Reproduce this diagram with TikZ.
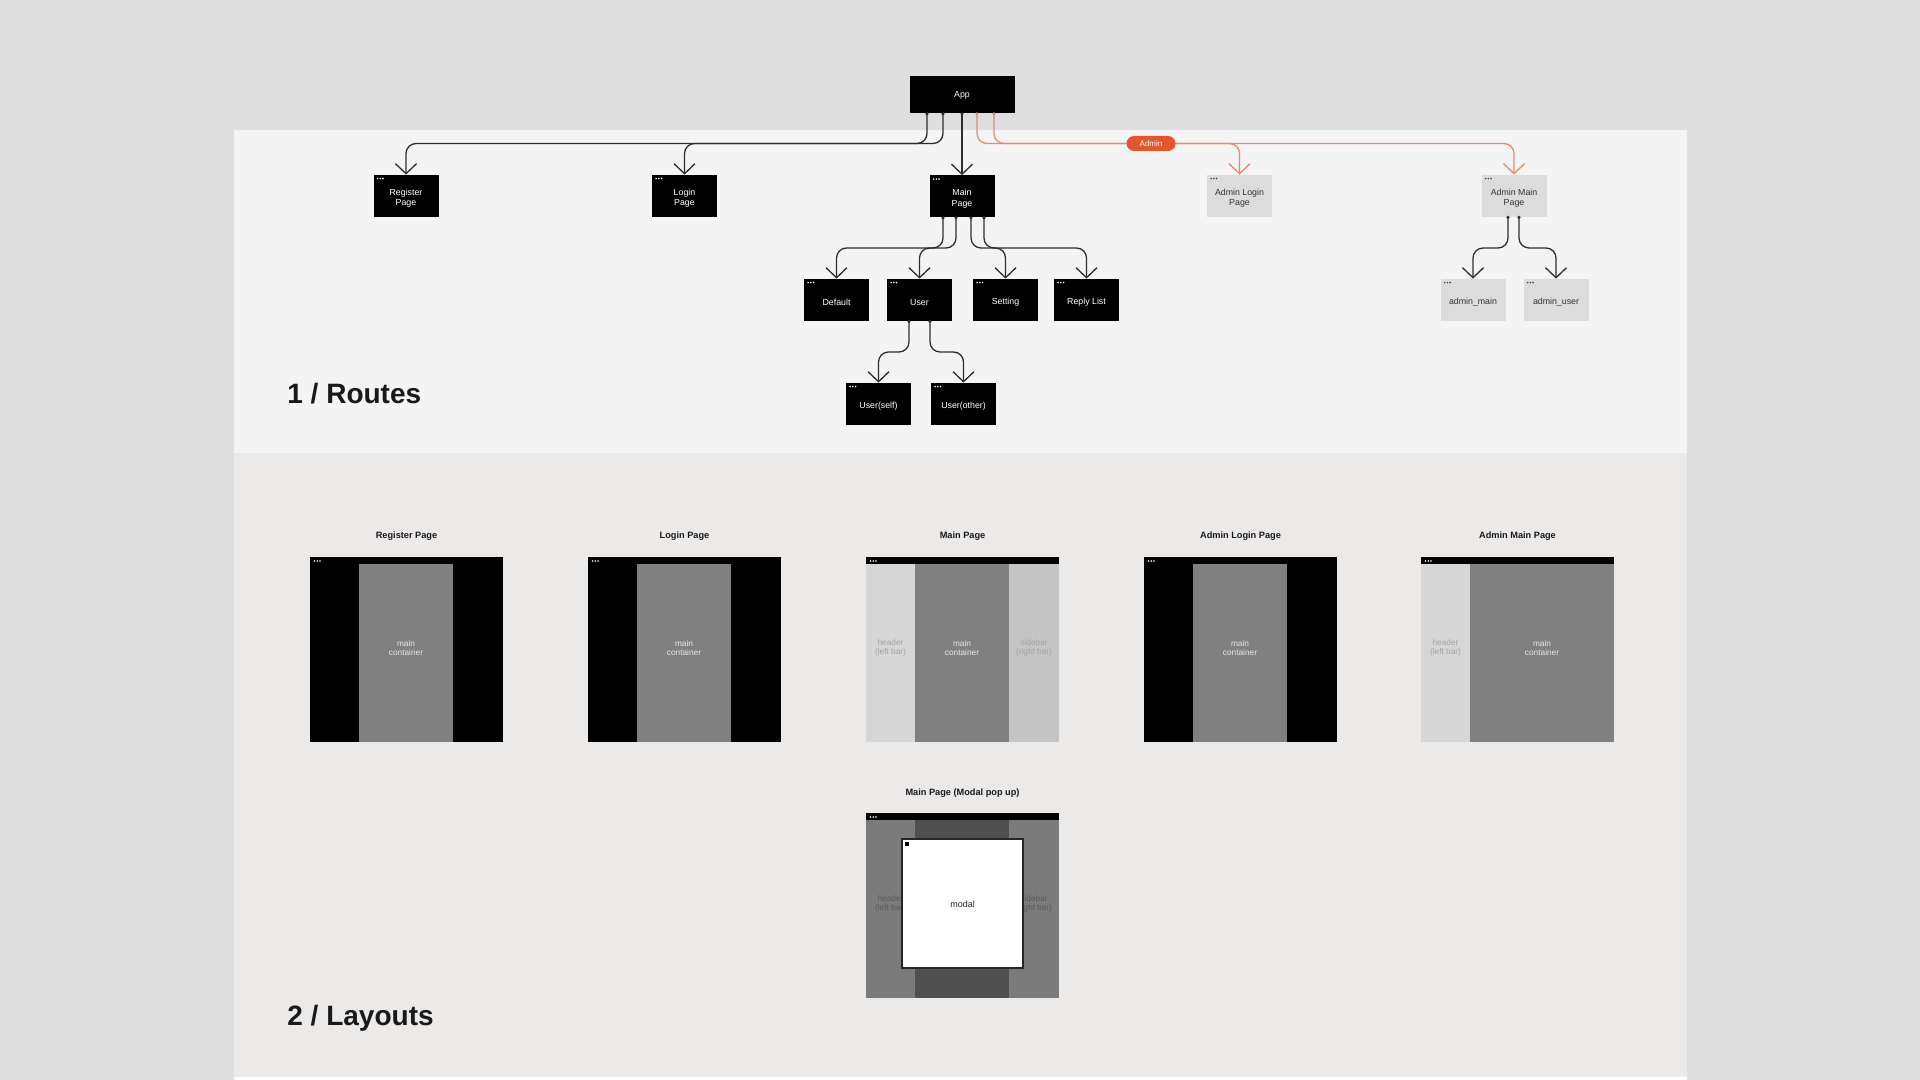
\documentclass[tikz,border=0pt]{standalone}
\usepackage{fontspec}
\setmainfont{Liberation Sans}
\usetikzlibrary{arrows.meta,calc}
\definecolor{bgc}{HTML}{DFDFDF}
\definecolor{panelA}{HTML}{F4F4F4}
\definecolor{panelB}{HTML}{ECE9E9}
\definecolor{lineC}{HTML}{2E2E2E}
\definecolor{orangeL}{HTML}{E98A6E}
\definecolor{orangeP}{HTML}{E4572E}
\definecolor{adminG}{HTML}{DCDCDC}
\definecolor{contG}{HTML}{808080}
\definecolor{leftG}{HTML}{D6D6D6}
\definecolor{rightG}{HTML}{C4C4C4}
\definecolor{barTxt}{HTML}{A4A4A4}
\definecolor{contTxt}{HTML}{E8E8E8}
\definecolor{modSide}{HTML}{7B7B7B}
\definecolor{modMid}{HTML}{4F4F4F}
\definecolor{modTxt}{HTML}{5A5A5A}
\newcommand\threedots[2]{\foreach \i in {0,1,2}{\fill[#2] ($(#1)+(4.5+\i*2.7,4)$) circle (0.45pt);}}
\tikzset{
  rtext/.style={align=center, inner sep=0pt, yshift=-1.1pt, font=\fontsize{4.4}{5.1}\selectfont},
  routebox/.style={rectangle, fill=black, minimum width=32.5pt, minimum height=21pt,
    inner sep=0pt, label={[rtext, text=white]center:#1}},
  adminbox/.style={rectangle, fill=adminG, minimum width=32.5pt, minimum height=21pt,
    inner sep=0pt, label={[rtext, text=black!80]center:#1}},
  appbox/.style={rectangle, fill=black, text=white, minimum width=52.5pt, minimum height=18.5pt,
    inner sep=0pt, font=\fontsize{4.4}{5.1}\selectfont},
  conn/.style={draw=lineC, line width=0.65pt, rounded corners=5pt,
    -{Straight Barb[length=5pt,width=10.5pt,line width=0.65pt]}},
  oconn/.style={conn, draw=orangeL},
  port/.style={fill=lineC},
  pill/.style={rectangle, rounded corners=3.75pt, fill=orangeP, text=white, minimum width=24.5pt,
    minimum height=7.5pt, inner sep=0pt, font=\fontsize{4}{5}\selectfont},
  heading/.style={anchor=base west, inner sep=0pt, font=\fontsize{14}{16}\selectfont\bfseries, text=black!90},
  ltitle/.style={font=\fontsize{4.6}{5.5}\selectfont\bfseries, text=black!90},
  ltext/.style={align=center, font=\fontsize{4.15}{4.7}\selectfont},
}
\begin{document}
\begin{tikzpicture}[x=0.5pt,y=-0.5pt]
\useasboundingbox (0,0) rectangle (1920,1080);
% backgrounds
\fill[bgc] (0,0) rectangle (1920,1080);
\fill[panelA] (234,130) rectangle (1687,453);
\fill[panelB] (234,453) rectangle (1687,1077);
\fill[white] (234,1077) rectangle (1687,1080);

% ---------- Routes ----------
\node[appbox] (app) at (962,95) {App};
\node[routebox={Register\\Page}] (reg) at (406,196) {};
\node[routebox={Login\\Page}] (login) at (684.5,196) {};
\node[routebox={Main\\Page}] (main) at (962,196.5) {};
\node[adminbox={Admin Login\\Page}] (al) at (1239.5,196) {};
\node[adminbox={Admin Main\\Page}] (am) at (1514,196) {};
\node[routebox={Default}] (def) at (836.5,300) {};
\node[routebox={User}] (user) at (919.5,300) {};
\node[routebox={Setting}] (set) at (1005.5,300) {};
\node[routebox={Reply List}] (reply) at (1086.5,300) {};
\node[routebox={User(self)}] (uself) at (878.5,404) {};
\node[routebox={User(other)}] (uother) at (963.5,404) {};
\node[adminbox={admin\_main}] (amain) at (1473,300) {};
\node[adminbox={admin\_user}] (auser) at (1556,300) {};

\foreach \n in {reg,login,main,def,user,set,reply,uself,uother}{\threedots{\n.north west}{white}}
\foreach \n in {al,am,amain,auser}{\threedots{\n.north west}{black!75}}

\coordinate (hA) at (0,143.5);
\coordinate (hM) at (0,248);
\coordinate (hU) at (0,352);

% App children
\draw[conn] ($(app.south)+(-35,0)$) |- (reg.north |- hA) -- (reg.north);
\draw[conn] ($(app.south)+(-19,0)$) |- (login.north |- hA) -- (login.north);
\draw[conn] (app.south) -- (main.north);
\draw[oconn] ($(app.south)+(15,0)$) |- (al.north |- hA) -- (al.north);
\draw[oconn] ($(app.south)+(32,0)$) |- (am.north |- hA) -- (am.north);
\foreach \o in {-35,-19,0}{\fill[port] ($(app.south)+(\o,0)$) circle (0.85pt);}
\foreach \o in {15,32}{\fill[orangeL] ($(app.south)+(\o,0)$) circle (0.85pt);}
\node[pill] (admin) at (1151,143.5) {Admin};

% Main Page children
\draw[conn] ($(main.south)+(-19,0)$) |- (def.north |- hM) -- (def.north);
\draw[conn] ($(main.south)+(-6,0)$) |- (user.north |- hM) -- (user.north);
\draw[conn] ($(main.south)+(9,0)$) |- (set.north |- hM) -- (set.north);
\draw[conn] ($(main.south)+(22,0)$) |- (reply.north |- hM) -- (reply.north);
\foreach \o in {-19,-6,9,22}{\fill[port] ($(main.south)+(\o,0)$) circle (0.85pt);}

% User children
\draw[conn] ($(user.south)+(-10.5,0)$) |- (uself.north |- hU) -- (uself.north);
\draw[conn] ($(user.south)+(10.5,0)$) |- (uother.north |- hU) -- (uother.north);
\foreach \o in {-10.5,10.5}{\fill[port] ($(user.south)+(\o,0)$) circle (0.85pt);}

% Admin Main children
\draw[conn] ($(am.south)+(-6,0)$) |- (amain.north |- hM) -- (amain.north);
\draw[conn] ($(am.south)+(5,0)$) |- (auser.north |- hM) -- (auser.north);
\foreach \o in {-6,5}{\fill[port] ($(am.south)+(\o,0)$) circle (0.85pt);}

\node[heading] (h1) at (287,403) {1 / Routes};

% ---------- Layouts ----------
\node[ltitle] (t1) at (406.5,536) {Register Page};
\node[ltitle] (t2) at (684.5,536) {Login Page};
\node[ltitle] (t3) at (962.5,536) {Main Page};
\node[ltitle] (t4) at (1240.5,536) {Admin Login Page};
\node[ltitle] (t5) at (1517.5,536) {Admin Main Page};
\node[ltitle] (t6) at (962.5,793) {Main Page (Modal pop up)};

% Register
\fill[black] (310,557) rectangle (503,742);
\fill[contG] (359,564) rectangle (453,742);
\threedots{310,557}{white}
\node[ltext, text=contTxt] (c1) at (406,648) {main\\container};
% Login
\fill[black] (588,557) rectangle (781,742);
\fill[contG] (637,564) rectangle (731,742);
\threedots{588,557}{white}
\node[ltext, text=contTxt] (c2) at (684,648) {main\\container};
% Main
\fill[black] (866,557) rectangle (1059,564);
\fill[leftG] (866,564) rectangle (915,742);
\fill[contG] (915,564) rectangle (1009,742);
\fill[rightG] (1009,564) rectangle (1059,742);
\threedots{866,557}{white}
\node[ltext, text=barTxt] (l3) at (890.5,648) {header\\(left bar)};
\node[ltext, text=contTxt] (c3) at (962,648) {main\\container};
\node[ltext, text=barTxt] (r3) at (1034,648) {sidebar\\(right bar)};
% Admin Login
\fill[black] (1144,557) rectangle (1337,742);
\fill[contG] (1193,564) rectangle (1287,742);
\threedots{1144,557}{white}
\node[ltext, text=contTxt] (c4) at (1240,648) {main\\container};
% Admin Main
\fill[black] (1421,557) rectangle (1614,564);
\fill[leftG] (1421,564) rectangle (1470,742);
\fill[contG] (1470,564) rectangle (1614,742);
\threedots{1421,557}{white}
\node[ltext, text=barTxt] (l5) at (1445.5,648) {header\\(left bar)};
\node[ltext, text=contTxt] (c5) at (1542,648) {main\\container};
% Modal
\fill[black] (866,813) rectangle (1059,820);
\fill[modSide] (866,820) rectangle (915,998);
\fill[modMid] (915,820) rectangle (1009,998);
\fill[modSide] (1009,820) rectangle (1059,998);
\threedots{866,813}{white}
\node[ltext, text=modTxt] (l6) at (890.5,904) {header\\(left bar)};
\node[ltext, text=modTxt] (r6) at (1034,904) {sidebar\\(right bar)};
\draw[fill=white, draw=black!85, line width=0.6pt] (902,839) rectangle (1023,968);
\fill[black] (905,842) rectangle (908.5,845.5);
\node[ltext, text=black!85, font=\fontsize{4.5}{5}\selectfont] (m6) at (962.5,904) {modal};

\node[heading] (h2) at (287,1025) {2 / Layouts};
\end{tikzpicture}
\end{document}
